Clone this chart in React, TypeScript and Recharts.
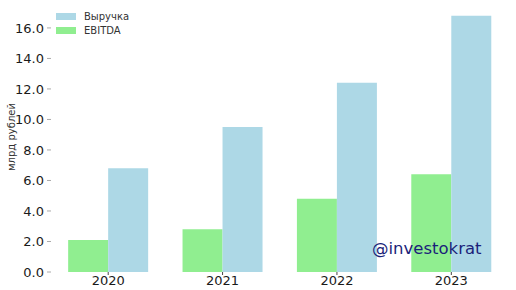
import React from 'react';
import { BarChart, Bar, XAxis, YAxis } from 'recharts';

const years = ['2020', '2021', '2022', '2023'];
const ebitda = [2.1, 2.8, 4.8, 6.4];
const revenue = [6.8, 9.5, 12.4, 16.8];
const yTicks = [0, 2, 4, 6, 8, 10, 12, 14, 16];
const legendItems = [
  { name: 'Выручка', color: '#ADD8E6' },
  { name: 'EBITDA', color: '#90EE90' },
];

const data = years.map((y, i) => ({ year: y, ebitda: ebitda[i], revenue: revenue[i] }));

const FONT = '"DejaVu Sans", sans-serif';

export default function App() {
  return (
    <div style={{ position: 'absolute', left: 0, top: 0, width: 516, height: 290, background: '#fff' }}>
      <BarChart
        width={516}
        height={290}
        data={data}
        margin={{ top: 2, right: 7.5, bottom: 0, left: 0 }}
        barCategoryGap="15%"
        barGap={0}
      >
        <XAxis
          dataKey="year"
          axisLine={false}
          tickSize={3}
          tickMargin={1}
          height={18}
          tickLine={{ stroke: '#444' }}
          tick={{ fill: '#1a1a1a', fontSize: 13, fontFamily: FONT }}
        />
        <YAxis
          domain={[0, 17.7]}
          ticks={yTicks}
          width={51}
          axisLine={false}
          tickSize={4}
          tickMargin={3}
          tickLine={{ stroke: '#aaa' }}
          tickFormatter={(v: number) => v.toFixed(1)}
          tick={{ fill: '#1a1a1a', fontSize: 13, fontFamily: FONT }}
          label={{
            content: () => (
              <text
                x={11}
                y={137}
                transform="rotate(-90 11 137)"
                textAnchor="middle"
                dominantBaseline="central"
                fontSize={10}
                fontFamily={FONT}
                fill="#333"
              >
                млрд рублей
              </text>
            ),
          }}
        />
        <Bar dataKey="ebitda" name="EBITDA" fill="#90EE90" isAnimationActive={false} />
        <Bar dataKey="revenue" name="Выручка" fill="#ADD8E6" isAnimationActive={false} />
      </BarChart>
      <div
        style={{
          position: 'absolute',
          left: 56,
          top: 9,
          fontFamily: FONT,
          fontSize: 10,
          color: '#333',
        }}
      >
        {legendItems.map((it) => (
          <div key={it.name} style={{ display: 'flex', alignItems: 'center', height: 14 }}>
            <div style={{ width: 20, height: 7, background: it.color, marginRight: 8 }} />
            <span>{it.name}</span>
          </div>
        ))}
      </div>
      <div
        style={{
          position: 'absolute',
          left: 372,
          top: 237,
          fontFamily: FONT,
          fontSize: 16.5,
          color: '#1b1f7a',
          lineHeight: '24px',
          whiteSpace: 'nowrap',
        }}
      >
        @investokrat
      </div>
    </div>
  );
}
